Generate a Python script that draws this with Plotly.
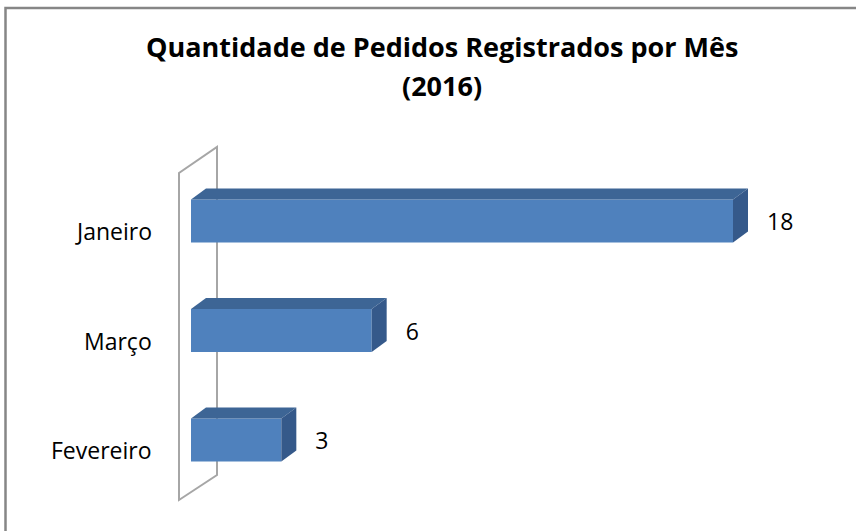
import plotly.graph_objects as go

# data (top to bottom as shown)
months = ["Janeiro", "Março", "Fevereiro"]
pedidos = [18, 6, 3]
positions = [2, 1, 0]

W, H = 856, 531
FONT = "Open Sans"

# pixel geometry of the plot (margins are zero, so axis range == figure)
px_per_unit = 542 / 18.0
x0_px = 191
y_row_px = 109.5
y0_px = 440  # centre of the lowest bar, from top

x_range = [-x0_px / px_per_unit, (W - x0_px) / px_per_unit]
y_range = [(y0_px - H) / y_row_px, y0_px / y_row_px]

bar_w = 43 / y_row_px
dx = 15 / px_per_unit   # 3d depth offset
dy = 11 / y_row_px

front_col = "#4F81BD"
top_col = "#3D6595"
side_col = "#35598A"

fig = go.Figure()

fig.add_trace(go.Bar(
    x=pedidos, y=positions, orientation="h", width=bar_w,
    marker=dict(color=front_col, line=dict(width=0)),
    hoverinfo="skip",
))

# value labels right of the bar's side face
fig.add_trace(go.Scatter(
    x=[v + dx + 19 / px_per_unit for v in pedidos],
    y=[p - 3.5 / y_row_px for p in positions],
    mode="text", text=[str(v) for v in pedidos],
    textposition="middle right",
    textfont=dict(family=FONT, size=23, color="#000000"),
    hoverinfo="skip",
))

shapes = []

# back wall of category axis (parallelogram)
wf = -12 / px_per_unit
wb = 26 / px_per_unit
wft = (y0_px - 173) / y_row_px
wfb = (y0_px - 500) / y_row_px
wbt = (y0_px - 147) / y_row_px
wbb = (y0_px - 475) / y_row_px
shapes.append(dict(
    type="path", xref="x", yref="y", layer="below",
    path=f"M {wf},{wft} L {wf},{wfb} L {wb},{wbb} L {wb},{wbt} Z",
    line=dict(color="#A6A6A6", width=2), fillcolor="rgba(0,0,0,0)",
))

for v, p in zip(pedidos, positions):
    top = p + bar_w / 2
    bot = p - bar_w / 2
    shapes.append(dict(
        type="path", xref="x", yref="y", layer="above",
        path=f"M 0,{top} L {dx},{top + dy} L {v + dx},{top + dy} L {v},{top} Z",
        fillcolor=top_col, line=dict(width=0),
    ))
    shapes.append(dict(
        type="path", xref="x", yref="y", layer="above",
        path=f"M {v},{top} L {v + dx},{top + dy} L {v + dx},{bot + dy} L {v},{bot} Z",
        fillcolor=side_col, line=dict(width=0),
    ))

# chart border (right and bottom edges fall outside the picture)
shapes.append(dict(
    type="rect", xref="paper", yref="paper",
    x0=5.5 / W, x1=1.1, y0=-0.1, y1=1 - 8 / H,
    line=dict(color="#868686", width=2.5), layer="above",
))

annotations = []
for m, p in zip(months, positions):
    annotations.append(dict(
        x=-37 / px_per_unit, y=p, xref="x", yref="y",
        text=m, showarrow=False, xanchor="right", yanchor="middle",
        yshift=-10, font=dict(family=FONT, size=23, color="#000000"),
    ))

title_x = 442 / W
annotations.append(dict(
    x=title_x, y=1 - 46 / H, xref="paper", yref="paper",
    text="<b>Quantidade de Pedidos Registrados por Mês</b>",
    showarrow=False, xanchor="center", yanchor="middle",
    font=dict(family=FONT, size=27, color="#000000"),
))
annotations.append(dict(
    x=title_x, y=1 - 85 / H, xref="paper", yref="paper",
    text="<b>(2016)</b>",
    showarrow=False, xanchor="center", yanchor="middle",
    font=dict(family=FONT, size=27, color="#000000"),
))

fig.update_layout(
    width=W, height=H,
    margin=dict(l=0, r=0, t=0, b=0),
    paper_bgcolor="white", plot_bgcolor="white",
    showlegend=False,
    xaxis=dict(range=x_range, visible=False, fixedrange=True),
    yaxis=dict(range=y_range, visible=False, fixedrange=True),
    shapes=shapes, annotations=annotations,
)

# page body has a default 8px margin; drop it so the figure fills the window
fig.write_html(
    "out.html",
    config={"displayModeBar": False},
    post_script="document.body.style.margin='0';document.body.style.overflow='hidden';",
)
